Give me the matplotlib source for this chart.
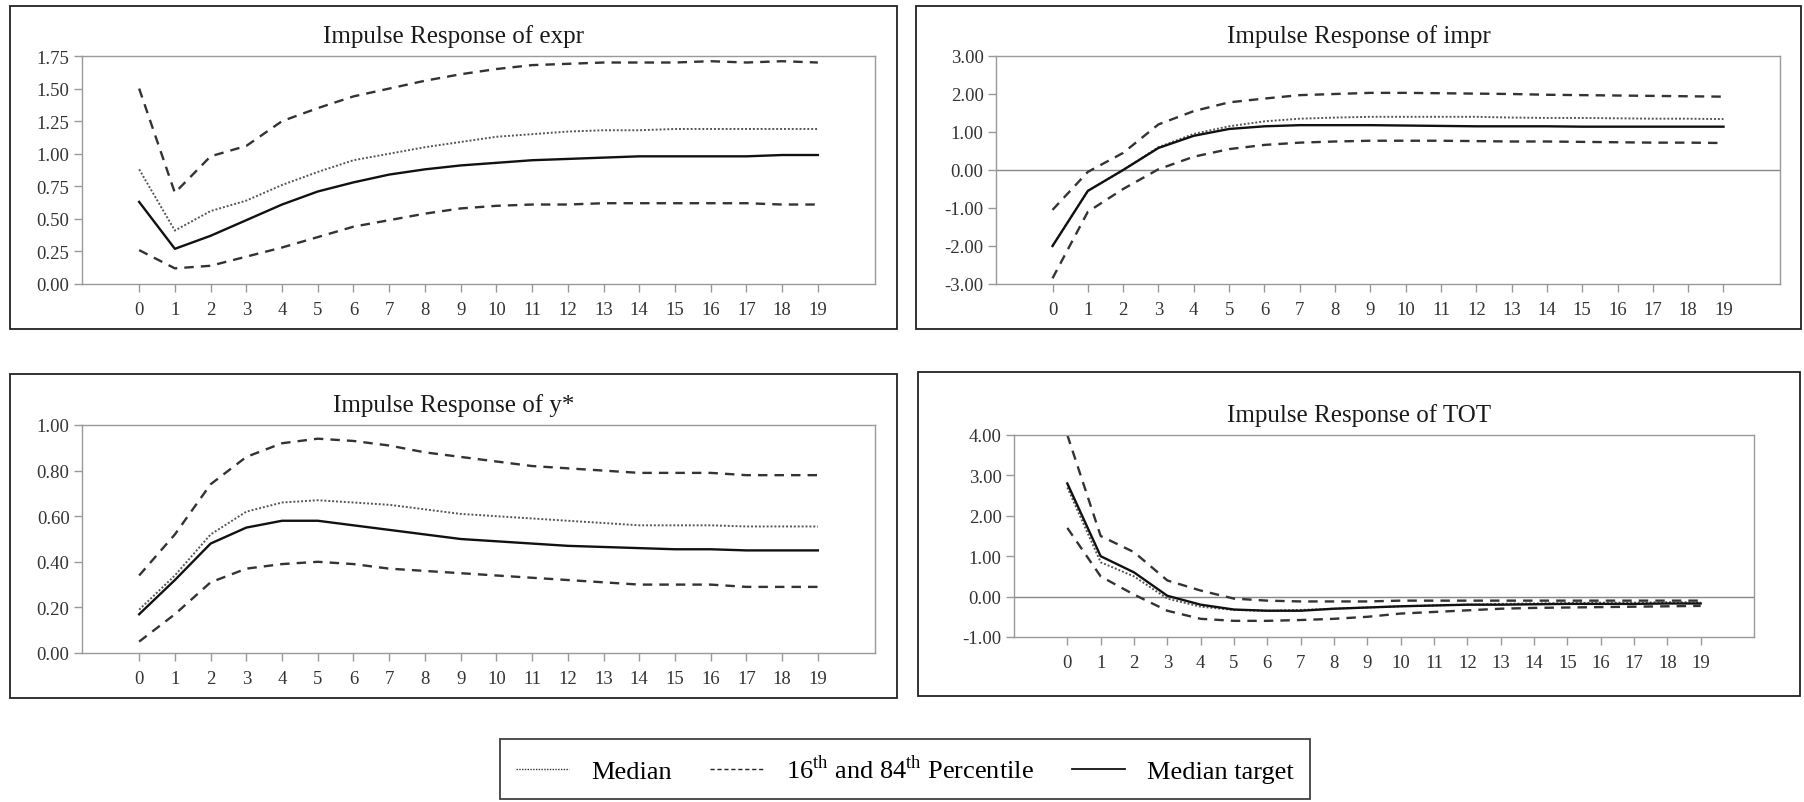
import matplotlib
matplotlib.use('Agg')
import matplotlib.pyplot as plt
from matplotlib.lines import Line2D
from matplotlib.patches import Rectangle
from matplotlib.ticker import FormatStrFormatter

plt.rcParams['font.family'] = 'Liberation Serif'
plt.rcParams['mathtext.fontset'] = 'custom'
plt.rcParams['mathtext.rm'] = 'Liberation Serif'

periods = list(range(20))

# expr
expr_hi = [1.50, 0.70, 0.98, 1.06, 1.25, 1.35, 1.44, 1.50, 1.56, 1.61, 1.65, 1.68, 1.69, 1.70, 1.70, 1.70, 1.71, 1.70, 1.71, 1.70]
expr_med = [0.88, 0.41, 0.56, 0.64, 0.76, 0.86, 0.95, 1.00, 1.05, 1.09, 1.13, 1.15, 1.17, 1.18, 1.18, 1.19, 1.19, 1.19, 1.19, 1.19]
expr_tgt = [0.63, 0.27, 0.37, 0.49, 0.61, 0.71, 0.78, 0.84, 0.88, 0.91, 0.93, 0.95, 0.96, 0.97, 0.98, 0.98, 0.98, 0.98, 0.99, 0.99]
expr_lo = [0.26, 0.12, 0.14, 0.21, 0.28, 0.36, 0.44, 0.49, 0.54, 0.58, 0.60, 0.61, 0.61, 0.62, 0.62, 0.62, 0.62, 0.62, 0.61, 0.61]

# impr
impr_hi = [-1.05, -0.05, 0.45, 1.20, 1.55, 1.78, 1.88, 1.97, 2.00, 2.03, 2.03, 2.02, 2.01, 2.00, 1.98, 1.97, 1.96, 1.95, 1.94, 1.93]
impr_med = [-2.00, -0.55, 0.00, 0.60, 0.95, 1.15, 1.28, 1.35, 1.38, 1.40, 1.40, 1.40, 1.40, 1.38, 1.37, 1.37, 1.36, 1.35, 1.35, 1.34]
impr_tgt = [-2.00, -0.55, 0.00, 0.58, 0.90, 1.08, 1.15, 1.18, 1.18, 1.18, 1.17, 1.16, 1.15, 1.15, 1.15, 1.14, 1.14, 1.14, 1.14, 1.14]
impr_lo = [-2.85, -1.10, -0.50, 0.02, 0.35, 0.55, 0.66, 0.72, 0.75, 0.77, 0.77, 0.77, 0.76, 0.75, 0.75, 0.74, 0.73, 0.72, 0.72, 0.71]

# y*
ystar_hi = [0.34, 0.52, 0.74, 0.86, 0.92, 0.94, 0.93, 0.91, 0.88, 0.86, 0.84, 0.82, 0.81, 0.80, 0.79, 0.79, 0.79, 0.78, 0.78, 0.78]
ystar_med = [0.19, 0.34, 0.52, 0.62, 0.66, 0.67, 0.66, 0.65, 0.63, 0.61, 0.60, 0.59, 0.58, 0.57, 0.56, 0.56, 0.56, 0.555, 0.555, 0.555]
ystar_tgt = [0.17, 0.32, 0.48, 0.55, 0.58, 0.58, 0.56, 0.54, 0.52, 0.50, 0.49, 0.48, 0.47, 0.465, 0.46, 0.455, 0.455, 0.45, 0.45, 0.45]
ystar_lo = [0.05, 0.17, 0.31, 0.37, 0.39, 0.40, 0.39, 0.37, 0.36, 0.35, 0.34, 0.33, 0.32, 0.31, 0.30, 0.30, 0.30, 0.29, 0.29, 0.29]

# TOT
tot_hi = [4.00, 1.50, 1.10, 0.40, 0.15, -0.05, -0.10, -0.12, -0.12, -0.12, -0.10, -0.10, -0.10, -0.10, -0.10, -0.10, -0.10, -0.10, -0.10, -0.10]
tot_med = [2.70, 0.85, 0.50, -0.05, -0.25, -0.33, -0.35, -0.33, -0.30, -0.27, -0.24, -0.22, -0.20, -0.18, -0.17, -0.16, -0.15, -0.15, -0.14, -0.14]
tot_tgt = [2.80, 1.00, 0.60, 0.02, -0.20, -0.32, -0.35, -0.35, -0.30, -0.27, -0.24, -0.22, -0.20, -0.20, -0.19, -0.18, -0.18, -0.18, -0.17, -0.17]
tot_lo = [1.70, 0.50, 0.05, -0.35, -0.55, -0.60, -0.60, -0.58, -0.55, -0.50, -0.42, -0.38, -0.34, -0.30, -0.28, -0.27, -0.26, -0.25, -0.24, -0.23]

W, H = 1804, 803
fig = plt.figure(figsize=(W / 100, H / 100), dpi=100)


def px_axes(l, t, r, b):
    return fig.add_axes([l / W, 1 - b / H, (r - l) / W, (b - t) / H])


def box(l, t, r, b):
    fig.patches.append(Rectangle((l / W, 1 - b / H), (r - l) / W, (b - t) / H,
                                 transform=fig.transFigure, fill=False,
                                 edgecolor='#222222', lw=1.3))


dot_style = dict(color='#555555', lw=1.4, linestyle=(0, (1, 1)))
dash_style = dict(color='#333333', lw=1.7, linestyle=(0, (4, 3)))
solid_style = dict(color='#111111', lw=1.7, linestyle='-')

panels = [
    # title, hi, med, tgt, lo, ylim, yticks, zero line, axes px, box px
    ('Impulse Response of expr', expr_hi, expr_med, expr_tgt, expr_lo,
     (0, 1.75), [0, 0.25, 0.5, 0.75, 1.0, 1.25, 1.5, 1.75], False,
     (82, 57, 875, 285), (10, 7, 897, 330)),
    ('Impulse Response of impr', impr_hi, impr_med, impr_tgt, impr_lo,
     (-3, 3), [-3, -2, -1, 0, 1, 2, 3], True,
     (996, 57, 1780, 285), (916, 7, 1801, 330)),
    ('Impulse Response of y*', ystar_hi, ystar_med, ystar_tgt, ystar_lo,
     (0, 1), [0, 0.2, 0.4, 0.6, 0.8, 1.0], False,
     (82, 426, 875, 654), (10, 375, 897, 699)),
    ('Impulse Response of TOT', tot_hi, tot_med, tot_tgt, tot_lo,
     (-1, 4), [-1, 0, 1, 2, 3, 4], True,
     (1014, 436, 1754, 638), (918, 373, 1800, 697)),
]

for title, hi, med, tgt, lo, ylim, yticks, zero, apx, bpx in panels:
    box(*bpx)
    ax = px_axes(*apx)
    if zero:
        ax.axhline(0, color='#888888', lw=1.0)
    ax.plot(periods, hi, **dash_style)
    ax.plot(periods, lo, **dash_style)
    ax.plot(periods, med, **dot_style)
    ax.plot(periods, tgt, **solid_style)
    ax.set_xlim(-1.6, 20.6)
    ax.set_ylim(*ylim)
    ax.set_xticks(periods)
    ax.set_yticks(yticks)
    ax.yaxis.set_major_formatter(FormatStrFormatter('%.2f'))
    for s in ax.spines.values():
        s.set_color('#999999')
        s.set_linewidth(1.0)
    ax.tick_params(axis='both', direction='out', length=6, width=1,
                   color='#999999', labelsize=13.5, labelcolor='#333333')
    ax.tick_params(axis='x', pad=6)
    ax.tick_params(axis='y', pad=3)
    cx = (bpx[0] + bpx[2]) / 2
    fig.text(cx / W, 1 - (apx[1] - 20) / H, title, ha='center', va='center',
             fontsize=18, color='#1a1a1a')

handles = [Line2D([], [], color='#333333', lw=1.0, linestyle=(0, (1, 1))),
           Line2D([], [], color='#222222', lw=1.0, linestyle=(0, (3, 2))),
           Line2D([], [], color='#111111', lw=1.3)]
labels = ['Median', r'16$^{\mathrm{th}}$ and 84$^{\mathrm{th}}$ Percentile', 'Median target']
leg = fig.legend(handles, labels, ncol=3,
                 bbox_to_anchor=(905 / W, 1 - 770 / H),
                 loc='center', fontsize=19, frameon=True, fancybox=False,
                 handlelength=2.0, handletextpad=0.85, columnspacing=1.45,
                 borderpad=0.6, borderaxespad=0)
leg.get_frame().set_edgecolor('#111111')
leg.get_frame().set_linewidth(1.3)

fig.savefig('out.png', dpi=100)
